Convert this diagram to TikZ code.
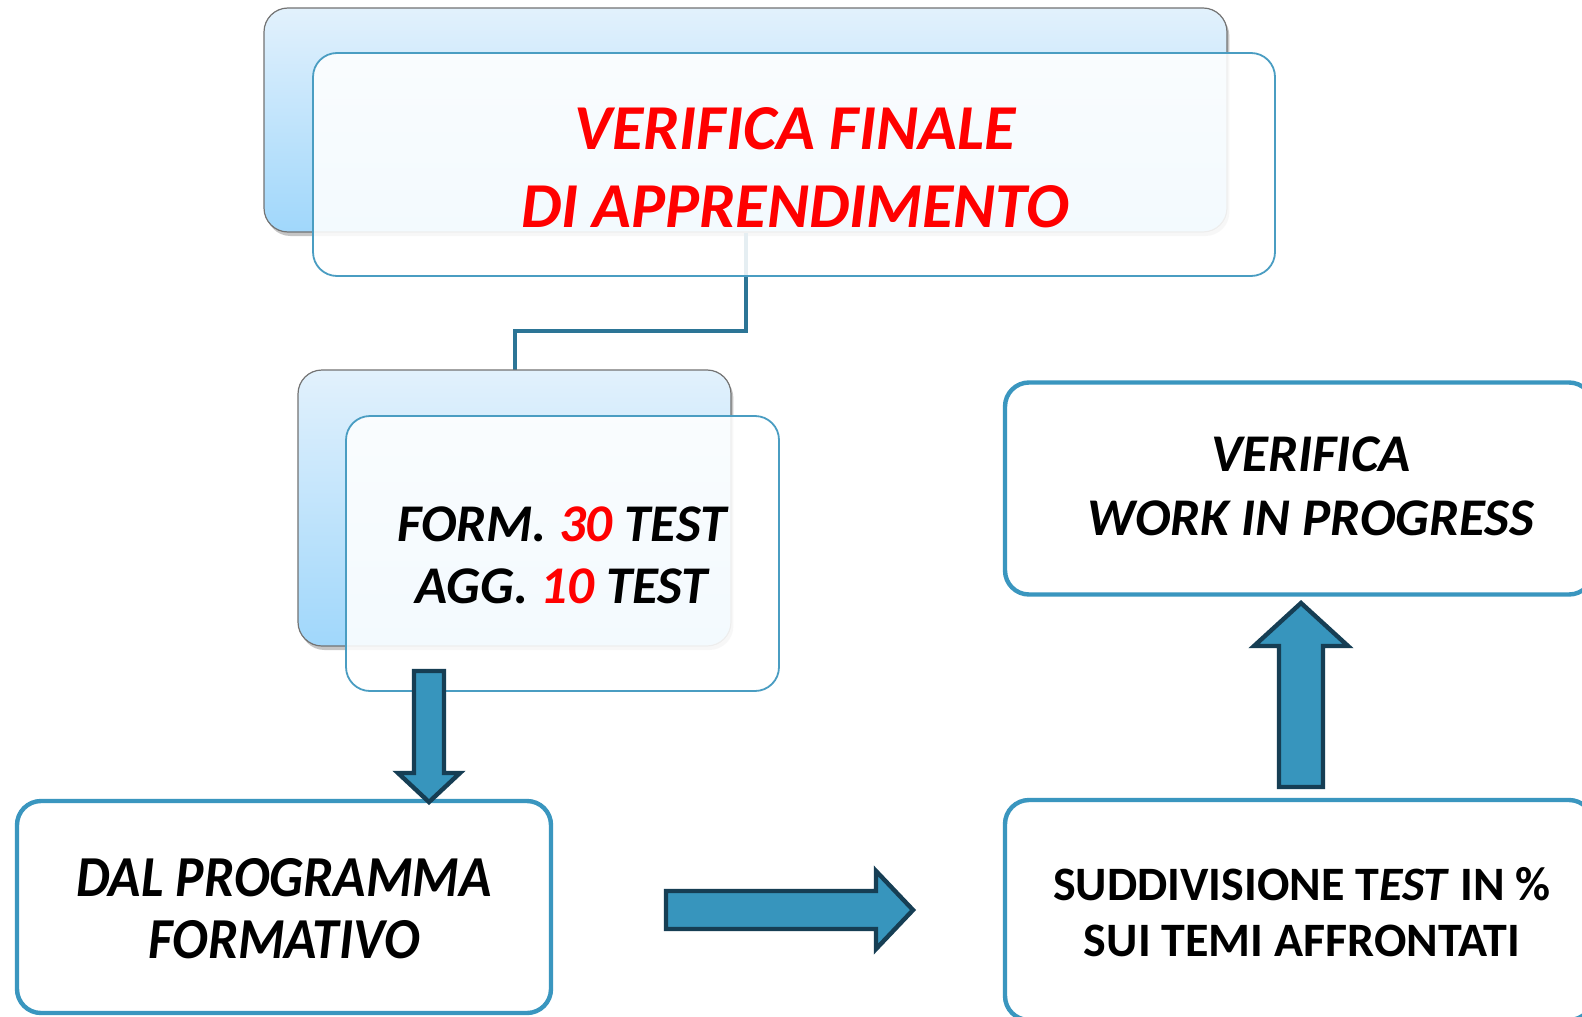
\documentclass[tikz,border=0pt]{standalone}
\usepackage{fontspec}
\setmainfont{Carlito}
\usetikzlibrary{shadows,calc}
\definecolor{boxblue}{HTML}{3A96BF}
\definecolor{thinblue}{HTML}{4A9DC2}
\definecolor{arrfill}{HTML}{3795BD}
\definecolor{arrdraw}{HTML}{163E54}
\definecolor{conncol}{HTML}{2C7596}
\definecolor{gradtop}{HTML}{E2F1FC}
\definecolor{gradbot}{HTML}{A0D7FB}
\definecolor{redtxt}{HTML}{FF0000}
\tikzset{
  backbox/.style={draw=black!55, line width=0.6pt, rounded corners=12pt,
    top color=gradtop, bottom color=gradbot,
    drop shadow={shadow xshift=1.2pt, shadow yshift=-2pt, opacity=0.45}},
  frontbox/.style={draw=thinblue, line width=0.9pt, rounded corners=12pt,
    fill=white, fill opacity=0.88, text opacity=1},
  plainbox/.style={draw=boxblue, line width=2.2pt, rounded corners=12pt, fill=white},
  txt/.style={align=center, font=\bfseries\itshape},
  blockarrow/.style={fill=arrfill, draw=arrdraw, line width=2.2pt, line join=miter},
  conn/.style={draw=conncol, line width=2pt}
}
\begin{document}
\begin{tikzpicture}[x=0.5pt, y=-0.5pt]
\useasboundingbox (0,0) rectangle (1582,1016);
\clip (0,0) rectangle (1582,1016);
\fill[white] (0,0) rectangle (1582,1016);

% top group
\node[backbox, minimum width=481.5pt, minimum height=112pt] (topback) at (745.5,120) {};
\draw[conn] (topback.south) -- ++(0,98) coordinate (bend) -| (515,370) coordinate (midtop);
\node[frontbox, minimum width=481pt, minimum height=111.5pt] (topfront) at (794,164.5) {};
\node[txt, text=redtxt, font=\fontsize{32}{39}\selectfont\bfseries\itshape] (title) at (795,168)
  {VERIFICA FINALE\\DI APPRENDIMENTO};

% middle group
\node[backbox, minimum width=216.5pt, minimum height=138pt] (midback) at (514.5,508) {};
\node[frontbox, minimum width=216.5pt, minimum height=137.5pt] (midfront) at (562.5,553.5) {};
\node[txt, font=\fontsize{26.5}{31}\selectfont\bfseries\itshape] (midtxt) at (562,555)
  {FORM. \textcolor{redtxt}{30} TEST\\AGG. \textcolor{redtxt}{10} TEST};

% bottom left
\node[plainbox, minimum width=267pt, minimum height=106pt] (botleft) at (284,907) {};
\node[txt, font=\fontsize{29}{31}\selectfont\bfseries\itshape, xscale=0.92] (bltxt) at (284,909)
  {DAL PROGRAMMA\\FORMATIVO};

% right top
\node[plainbox, minimum width=294pt, minimum height=106pt] (rtop) at (1299,488.5) {};
\node[txt, font=\fontsize{26.5}{32}\selectfont\bfseries\itshape] (rttxt) at (1311,486)
  {VERIFICA\\WORK IN PROGRESS};

% bottom right
\node[plainbox, minimum width=294pt, minimum height=110pt] (rbot) at (1299,910) {};
\node[align=center, font=\fontsize{24}{28}\selectfont\bfseries] (rbtxt) at (1302,912)
  {SUDDIVISIONE T\textit{EST} IN \%\\SUI TEMI AFFRONTATI};

% block arrows
\draw[blockarrow] (414,671) -- (444,671) -- (444,773) -- (460,773) -- (429,802)
  -- (398,773) -- (414,773) -- cycle;
\draw[blockarrow] (666,891) -- (876,891) -- (876,871) -- (913,910) -- (876,949)
  -- (876,929) -- (666,929) -- cycle;
\draw[blockarrow] (1279,787) -- (1279,646) -- (1254,646) -- (1301,603) -- (1348,646)
  -- (1323,646) -- (1323,787) -- cycle;
\end{tikzpicture}
\end{document}
